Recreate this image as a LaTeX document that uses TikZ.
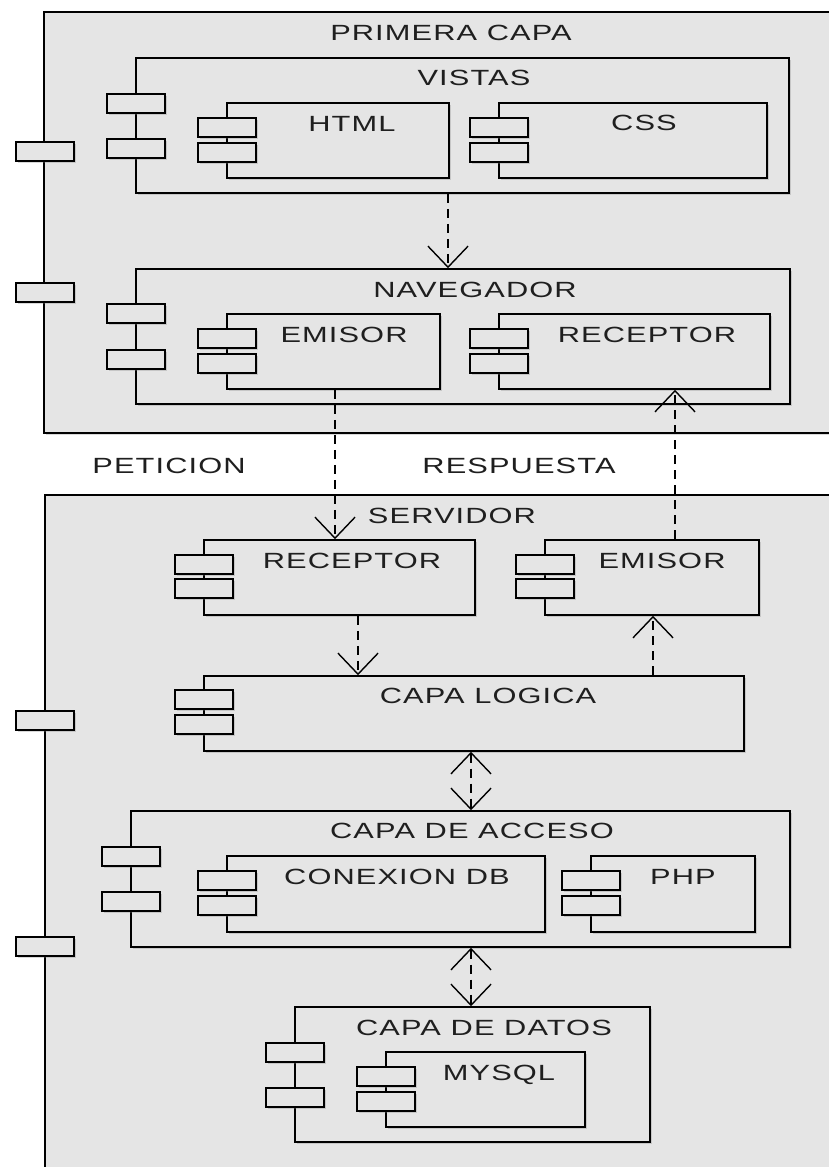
\documentclass[tikz,border=0pt]{standalone}
\usepackage{fontspec}
\setmainfont{Liberation Sans}[FakeStretch=1.4,LetterSpace=5]
\usetikzlibrary{arrows.meta,shadows,calc}
\definecolor{boxgray}{HTML}{E5E5E5}
\tikzset{
  box/.style={draw=black, line width=1.6pt, fill=boxgray, inner sep=0pt,
    drop shadow={shadow xshift=2pt,shadow yshift=-2pt,opacity=0.3}},
  port/.style={box, minimum width=58pt, minimum height=19pt},
  lbl/.style={anchor=base, inner sep=0pt, font=\fontsize{22}{26}\selectfont, text=black!88},
  barb/.tip={Straight Barb[length=21pt,width=40pt,line width=1.4pt]},
  dep/.style={draw, line width=1.4pt, dash pattern=on 9pt off 6pt, -barb},
  bidep/.style={draw, line width=1.4pt, dash pattern=on 9pt off 6pt, barb-barb}
}
\newcommand\comp[7]{%
  \node[box, minimum width={#4-#2}, minimum height={#5-#3}] (#1) at ({(#2+#4)/2},{(#3+#5)/2}) {};
  \node[port] (#1-pa) at (#2,{#6+9.5}) {};
  \node[port] (#1-pb) at (#2,{#7+9.5}) {};
}
\begin{document}
\begin{tikzpicture}[x=1pt,y=-1pt]
\useasboundingbox (0,0) rectangle (829,1167);
\clip (0,0) rectangle (829,1167);
\fill[white] (0,0) rectangle (829,1167);
% outer boxes
\node[box, minimum width=800, minimum height=421] (primera) at (444,222.5) {};
\node[port] (primera-pa) at (45,151.5) {};
\node[port] (primera-pb) at (45,292.5) {};
\node[box, minimum width=800, minimum height=700] (servidor) at (445,845) {};
\node[port] (servidor-pa) at (45,720.5) {};
\node[port] (servidor-pb) at (45,946.5) {};
% components
\comp{vistas}{136}{58}{789}{193}{94}{139}
\comp{html}{227}{103}{449}{178}{118}{143}
\comp{css}{499}{103}{767}{178}{118}{143}
\comp{nav}{136}{269}{790}{404}{304}{350}
\comp{emi1}{227}{314}{440}{389}{329}{354}
\comp{rec1}{499}{314}{770}{389}{329}{354}
\comp{rec2}{204}{540}{475}{615}{555}{579}
\comp{emi2}{545}{540}{759}{615}{555}{579}
\comp{logica}{204}{676}{744}{751}{690}{715}
\comp{acceso}{131}{811}{790}{947}{847}{892}
\comp{conexion}{227}{856}{545}{932}{871}{896}
\comp{php}{591}{856}{755}{932}{871}{896}
\comp{datos}{295}{1007}{650}{1142}{1043}{1088}
\comp{mysql}{386}{1052}{585}{1127}{1067}{1092}
% labels
\node[lbl] (t-primera) at (451,40) {PRIMERA CAPA};
\node[lbl] (t-vistas) at (474,85) {VISTAS};
\node[lbl] (t-html) at (352,131) {HTML};
\node[lbl] (t-css) at (644,130) {CSS};
\node[lbl] (t-nav) at (475,297) {NAVEGADOR};
\node[lbl] (t-emi1) at (344,342) {EMISOR};
\node[lbl] (t-rec1) at (647,342) {RECEPTOR};
\node[lbl] (t-pet) at (169,473) {PETICION};
\node[lbl] (t-resp) at (519,473) {RESPUESTA};
\node[lbl] (t-serv) at (452,523) {SERVIDOR};
\node[lbl] (t-rec2) at (352,568) {RECEPTOR};
\node[lbl] (t-emi2) at (662,568) {EMISOR};
\node[lbl] (t-logica) at (488,703) {CAPA LOGICA};
\node[lbl] (t-acceso) at (472,838) {CAPA DE ACCESO};
\node[lbl] (t-conexion) at (397,884) {CONEXION DB};
\node[lbl] (t-php) at (683,884) {PHP};
\node[lbl] (t-datos) at (484,1035) {CAPA DE DATOS};
\node[lbl] (t-mysql) at (499,1080) {MYSQL};
% connectors
\coordinate (xa) at (448,0);
\coordinate (xb) at (335,0);
\coordinate (xc) at (675,0);
\coordinate (xd) at (358,0);
\coordinate (xe) at (653,0);
\coordinate (xf) at (471,0);
\draw[dep] (vistas.south -| xa) -- (nav.north -| xa);
\draw[dep] (emi1.south -| xb) -- (rec2.north -| xb);
\draw[dep] (emi2.north -| xc) -- (rec1.south -| xc);
\draw[dep] (rec2.south -| xd) -- (logica.north -| xd);
\draw[dep] (logica.north -| xe) -- (emi2.south -| xe);
\draw[bidep] (logica.south -| xf) -- (acceso.north -| xf);
\draw[bidep] (acceso.south -| xf) -- (datos.north -| xf);
\end{tikzpicture}
\end{document}
